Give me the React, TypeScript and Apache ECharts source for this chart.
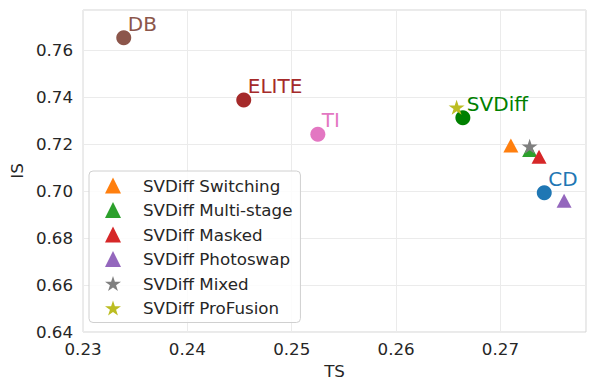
import React, { useEffect, useRef } from "react";
import * as echarts from "echarts";

const methodNames = ["DB", "ELITE", "TI", "SVDiff", "CD"];
const methodTS = [0.2339, 0.2454, 0.2525, 0.2664, 0.2742];
const methodIS = [0.7652, 0.7387, 0.7241, 0.7312, 0.6992];
const methodColors = ["#8c564b", "#a52a2a", "#e377c2", "#008000", "#1f77b4"];

const variantNames = [
  "SVDiff Switching",
  "SVDiff Multi-stage",
  "SVDiff Masked",
  "SVDiff Photoswap",
  "SVDiff Mixed",
  "SVDiff ProFusion",
];
const variantTS = [0.2710, 0.2728, 0.2737, 0.2761, 0.2728, 0.2658];
const variantIS = [0.7194, 0.7174, 0.7146, 0.6958, 0.7190, 0.7356];
const variantColors = ["#ff7f0e", "#2ca02c", "#d62728", "#9467bd", "#7f7f7f", "#bcbd22"];
const variantShapes = ["tri", "tri", "tri", "tri", "star", "star"];

const xTicksMin = 0.23;
const xTicksMax = 0.2782;
const yTicksMin = 0.64;
const yTicksMax = 0.777;

const STAR =
  "path://M0,-100L22.45,-30.9L95.1,-30.9L36.33,11.8L58.78,80.9L0,38.2L-58.78,80.9L-36.33,11.8L-95.1,-30.9L-22.45,-30.9Z";

const FONT = "DejaVu Sans";
const TXT = "#262626";

export default function App() {
  const ref = useRef<HTMLDivElement>(null);
  useEffect(() => {
    if (!ref.current) return;
    const chart = echarts.init(ref.current, undefined, { renderer: "svg" });
    const fmt = (step: number) => (v: number) => {
      const k = v / step;
      if (Math.abs(k - Math.round(k)) > 1e-6) return "";
      return v.toFixed(2);
    };
    const series: any[] = [
      {
        type: "scatter",
        name: "methods",
        symbol: "circle",
        symbolSize: 15,
        data: methodNames.map((n, i) => ({
          name: n,
          value: [methodTS[i], methodIS[i]],
          itemStyle: { color: methodColors[i], opacity: 1 },
          label: { color: methodColors[i] },
        })),
        label: {
          show: true,
          formatter: "{b}",
          position: "inside",
          align: "left",
          verticalAlign: "middle",
          offset: [4, -14],
          fontFamily: FONT,
          fontSize: 20,
        },
      },
      ...variantNames.map((n, i) => ({
        type: "scatter",
        name: n,
        symbol: variantShapes[i] === "tri" ? "triangle" : STAR,
        symbolSize: variantShapes[i] === "tri" ? [15, 14] : [16, 15],
        itemStyle: { color: variantColors[i], opacity: 1 },
        data: [[variantTS[i], variantIS[i]]],
      })),
    ];
    chart.setOption({
      animation: false,
      textStyle: { fontFamily: FONT },
      grid: {
        left: 81,
        right: 12,
        top: 10,
        bottom: 58,
        show: true,
        borderColor: "#d4d4d4",
        borderWidth: 1,
        backgroundColor: "#ffffff",
      },
      xAxis: {
        type: "value",
        min: xTicksMin,
        max: xTicksMax,
        interval: 0.01,
        name: "TS",
        nameLocation: "middle",
        nameGap: 30,
        nameTextStyle: { fontFamily: FONT, fontSize: 16.7, color: TXT },
        axisLine: { show: false },
        axisTick: { show: false },
        axisLabel: {
          formatter: fmt(0.01),
          fontFamily: FONT,
          fontSize: 16.7,
          color: TXT,
          margin: 8,
          showMaxLabel: false,
        },
        splitLine: { show: true, lineStyle: { color: "#ebebeb", width: 1 } },
      },
      yAxis: {
        type: "value",
        min: yTicksMin,
        max: yTicksMax,
        interval: 0.02,
        name: "IS",
        nameLocation: "middle",
        nameGap: 49,
        nameTextStyle: { fontFamily: FONT, fontSize: 16.7, color: TXT },
        axisLine: { show: false },
        axisTick: { show: false },
        axisLabel: {
          formatter: fmt(0.02),
          fontFamily: FONT,
          fontSize: 16.7,
          color: TXT,
          margin: 10,
          showMaxLabel: false,
        },
        splitLine: { show: true, lineStyle: { color: "#ebebeb", width: 1 } },
      },
      legend: {
        data: variantNames,
        orient: "vertical",
        left: 89,
        top: 171,
        padding: [6, 8, 6, 16],
        itemWidth: 16,
        itemHeight: 16,
        itemGap: 7.5,
        backgroundColor: "rgba(255,255,255,0.85)",
        borderColor: "#d0d0d0",
        borderWidth: 1,
        borderRadius: 4,
        textStyle: {
          fontFamily: FONT,
          fontSize: 16.7,
          color: TXT,
          lineHeight: 16,
          padding: [0, 0, 0, 17],
        },
      },
      series,
    });
    return () => chart.dispose();
  }, []);
  return (
    <div
      ref={ref}
      style={{ position: "fixed", left: 0, top: 0, width: 598, height: 390, background: "#fff" }}
    />
  );
}
